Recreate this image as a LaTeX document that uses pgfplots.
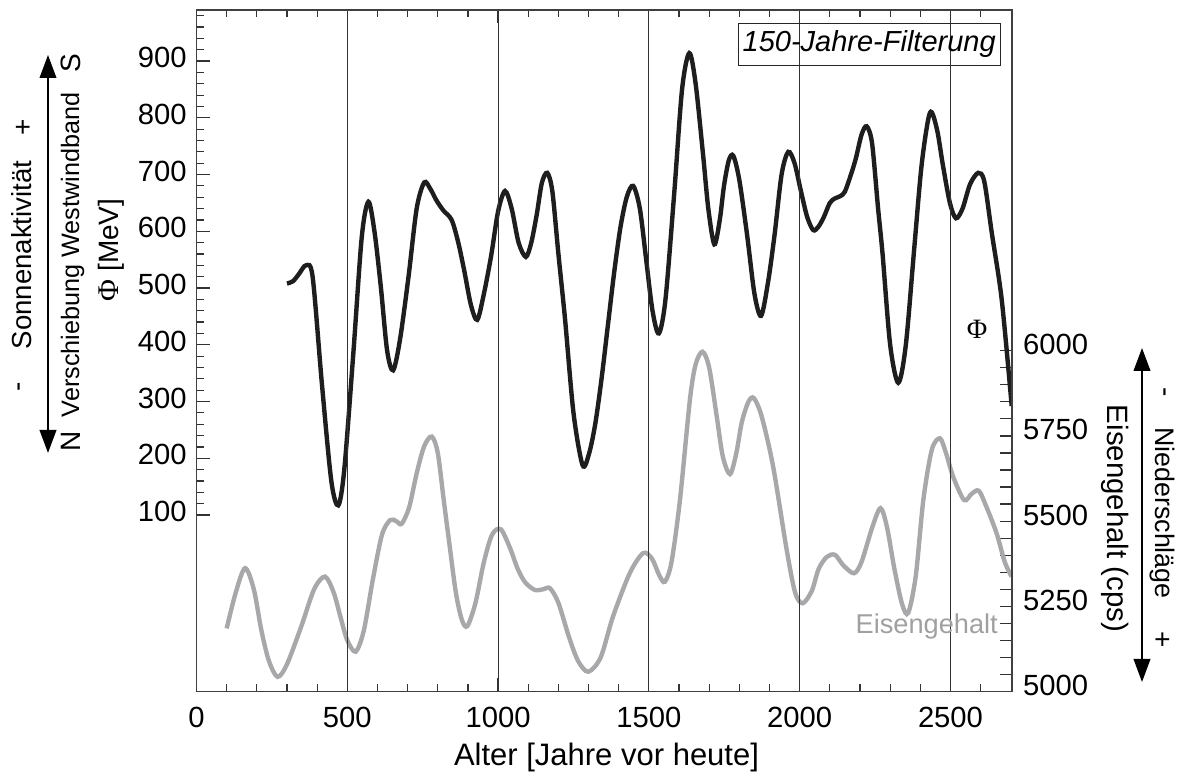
\documentclass[border=0pt]{standalone}
\usepackage{pgfplots}
\pgfplotsset{compat=1.18}
\usepackage{fontspec}
\setmainfont{Liberation Sans}
\newfontfamily\serifphi{Liberation Serif}
\usetikzlibrary{arrows.meta}
\definecolor{curveblack}{HTML}{1E1E1E}
\definecolor{curvegray}{HTML}{A8A8AA}
\definecolor{textgray}{HTML}{A0A0A2}
\newcommand{\fs}[1]{\fontsize{#1pt}{#1pt}\selectfont}
\begin{document}
\begin{tikzpicture}
\useasboundingbox (0pt,0pt) rectangle (589pt,387pt);
% ---------- right axis: Eisengehalt ----------
\begin{axis}[
  at={(98.25pt,41.25pt)}, anchor=south west, scale only axis,
  width=407.75pt, height=340.75pt,
  xmin=0, xmax=2704, ymin=5000, ymax=7000,
  axis x line=none, axis y line*=right,
  axis line style={black!75, line width=0.6pt},
  tick align=inside,
  ytick={5000,5250,5500,5750,6000},
  minor ytick={5050,5100,...,5950},
  major tick length=6pt, minor tick length=6pt,
  tick style={black!80, line width=0.6pt},
  /pgf/number format/assume math mode=true,
  /pgf/number format/1000 sep={},
  tick label style={font=\fs{14.6}},
  yticklabel style={xshift=2pt, yshift=3pt},
]
\addplot[curvegray, line width=2.2pt, smooth] coordinates {
(100,5185) (130,5290) (161,5362) (190,5300) (215,5180) (240,5090) (269,5043)
(300,5080) (347,5190) (390,5300) (426,5337) (455,5290) (477,5220) (500,5150)
(528,5117) (555,5180) (585,5330) (615,5460) (642,5503) (662,5500) (680,5492)
(705,5540) (730,5640) (755,5720) (780,5748) (800,5700) (820,5560) (839,5430)
(860,5290) (880,5210) (898,5192) (925,5260) (953,5380) (980,5460) (1009,5476)
(1040,5420) (1065,5360) (1090,5320) (1122,5298) (1150,5300) (1172,5303)
(1200,5260) (1235,5160) (1265,5090) (1299,5058) (1340,5100) (1381,5220)
(1437,5348) (1481,5406) (1510,5390) (1535,5340) (1553,5322) (1575,5380)
(1603,5562) (1636,5856) (1655,5960) (1678,5997) (1700,5950) (1725,5807)
(1745,5690) (1769,5638) (1790,5700) (1808,5790) (1830,5850) (1848,5861)
(1874,5807) (1912,5660) (1957,5415) (1985,5290) (2010,5259) (2040,5295)
(2063,5360) (2090,5395) (2117,5401) (2145,5370) (2180,5347) (2205,5380)
(2240,5480) (2268,5538) (2290,5480) (2314,5360) (2340,5255) (2360,5231)
(2385,5340) (2410,5562) (2438,5709) (2465,5743) (2485,5700) (2509,5630)
(2545,5562) (2570,5580) (2594,5589) (2620,5540) (2653,5464) (2680,5380)
(2703,5337)
};
\end{axis}
% ---------- left axis: Phi ----------
\begin{axis}[
  at={(98.25pt,41.25pt)}, anchor=south west, scale only axis,
  width=407.75pt, height=340.75pt,
  xmin=0, xmax=2704, ymin=-211, ymax=990,
  axis on top,
  axis line style={black!75, line width=0.6pt},
  tick align=inside,
  xtick pos=both, ytick pos=left,
  xtick={0,500,...,2500},
  minor xtick={100,200,...,2600},
  ytick={100,200,...,900},
  minor ytick={120,140,...,980},
  major tick length=6.5pt, minor tick length=3.5pt,
  tick style={black!80, line width=0.6pt},
  xmajorgrids,
  major grid style={black!80, line width=0.5pt},
  /pgf/number format/assume math mode=true,
  /pgf/number format/1000 sep={},
  tick label style={font=\fs{14.6}},
  xticklabel style={yshift=-4.3pt},
  yticklabel style={xshift=-1.4pt, yshift=1.75pt},
]
\addplot[curveblack, line width=2.2pt, smooth] coordinates {
(300,508) (320,512) (340,525) (363,540) (385,520) (416,330) (447,160) (470,117)
(490,180) (520,385) (548,590) (570,652) (590,600) (611,503) (632,390) (652,355)
(675,410) (703,520) (730,640) (755,686) (775,675) (795,655) (818,637) (846,620)
(868,580) (888,530) (910,470) (931,444) (953,490) (977,557) (1000,635) (1023,671)
(1045,640) (1068,580) (1092,555) (1110,580) (1128,629) (1145,685) (1163,703)
(1180,670) (1200,560) (1222,445) (1250,280) (1280,188) (1301,207) (1322,260)
(1343,340) (1364,434) (1385,528) (1406,608) (1427,661) (1448,680) (1470,640)
(1491,550) (1512,460) (1533,420) (1555,480) (1584,667) (1610,850) (1634,914)
(1655,860) (1680,733) (1697,640) (1717,577) (1735,620) (1749,680) (1765,725)
(1780,733) (1800,690) (1826,592) (1850,490) (1872,451) (1895,510) (1917,595)
(1940,700) (1962,740) (1983,720) (2004,671) (2025,625) (2045,602) (2062,608)
(2080,625) (2100,650) (2117,658) (2135,662) (2150,670) (2170,700) (2186,728)
(2205,770) (2222,785) (2240,755) (2260,640) (2275,559) (2300,400) (2327,333)
(2352,400) (2380,571) (2405,720) (2432,809) (2455,780) (2475,716) (2498,650)
(2518,623) (2540,640) (2565,683) (2592,703) (2612,688) (2637,597) (2670,479)
(2703,292)
};
\end{axis}
% ---------- annotations (coordinates in image pixels from bottom-left) ----------
\begin{scope}[x=0.5pt,y=0.5pt]
% left side
\draw[line width=1pt, {Triangle[width=8.3pt,length=11.5pt]}-{Triangle[width=8.3pt,length=11.5pt]}] (48,321) -- (48,719);
\node[rotate=90, font=\fs{14}, inner sep=0] at (22.5,387) {-};
\node[rotate=90, font=\fs{13.8}, inner sep=0] at (22,519) {Sonnenaktivität};
\node[rotate=90, font=\fs{14}, inner sep=0] at (24.5,647) {+};
\node[rotate=90, font=\fs{14}, inner sep=0] at (70.5,333) {N};
\node[rotate=90, font=\fs{12.6}, inner sep=0] at (72.5,519) {Verschiebung Westwindband};
\node[rotate=90, font=\fs{14}, inner sep=0] at (70.5,711) {S};
\node[rotate=90, font=\fs{14}, inner sep=0] at (111,524) {{\serifphi\fs{15}Φ} [MeV]};
% right side
\draw[line width=1pt, {Triangle[width=8.3pt,length=11.5pt]}-{Triangle[width=8.3pt,length=11.5pt]}] (1142,92) -- (1142,426);
\node[rotate=-90, font=\fs{14}, inner sep=0] at (1161.7,382.3) {-};
\node[rotate=-90, font=\fs{13.4}, inner sep=0] at (1162,261) {Niederschläge};
\node[rotate=-90, font=\fs{14}, inner sep=0] at (1161.7,134) {+};
\node[rotate=-90, font=\fs{14.7}, inner sep=0] at (1115,255.5) {Eisengehalt (cps)};
% x label
\node[anchor=base, font=\fs{15.5}, inner sep=0] at (606.5,8) {Alter [Jahre vor heute]};
% in-plot labels
\node[draw=black!85, line width=0.5pt, minimum width=130.85pt, minimum height=20.85pt, inner sep=0, font=\fs{14.5}\itshape] at (869.2,729.8) {150-Jahre-Filterung};
\node[font=\serifphi\fs{14}, inner sep=0] at (977,445) {Φ};
\node[font=\fs{13.6}, text=textgray, inner sep=0] at (926.7,148) {Eisengehalt};
\end{scope}
\end{tikzpicture}
\end{document}
